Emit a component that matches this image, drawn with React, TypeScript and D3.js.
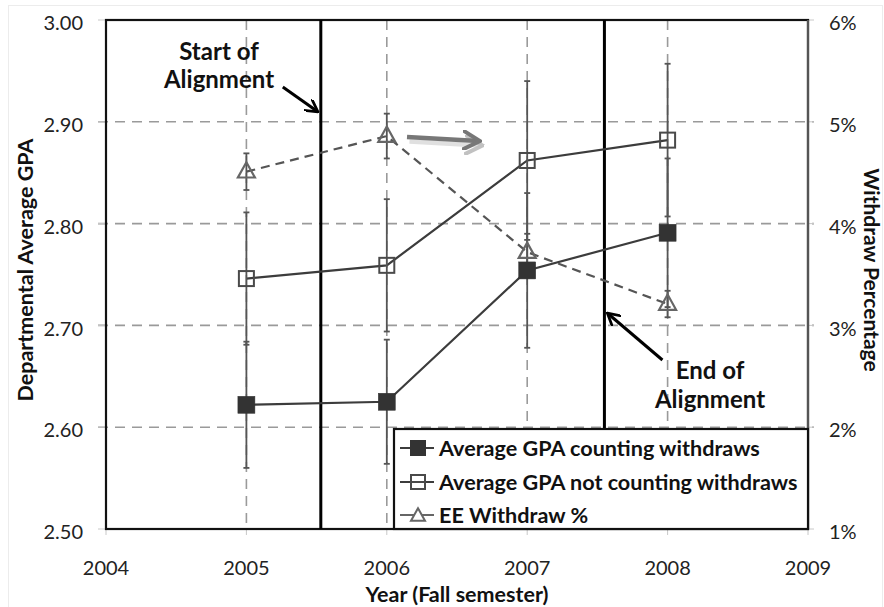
import React, { useEffect, useRef } from "react";
import * as d3 from "d3";

const years = [2005, 2006, 2007, 2008];
const gpaWith = [2.622, 2.625, 2.754, 2.791];
const gpaWithErr = [0.062, 0.061, 0.076, 0.073];
const gpaWithout = [2.746, 2.759, 2.862, 2.882];
const gpaWithoutErr = [0.065, 0.065, 0.078, 0.075];
const withdrawPct = [4.51, 4.86, 3.72, 3.21];
const withdrawErr = [0.18, 0.22, 0.18, 0.13];

const leftTicks = [2.5, 2.6, 2.7, 2.8, 2.9, 3.0];
const rightTicks = [1, 2, 3, 4, 5, 6];
const xTicks = [2004, 2005, 2006, 2007, 2008, 2009];
const alignStart = 2005.53;
const alignEnd = 2007.55;

const legendLabels = [
  "Average GPA counting withdraws",
  "Average GPA not counting withdraws",
  "EE Withdraw %",
];

const W = 884;
const H = 607;
const M = { left: 106, right: 808, top: 20, bottom: 529 };
const FONT = "Lato, 'Open Sans', sans-serif";

export default function App() {
  const ref = useRef<SVGSVGElement>(null);

  useEffect(() => {
    const svg = d3.select(ref.current);
    svg.selectAll("*").remove();

    const x = d3.scaleLinear().domain([2004, 2009]).range([M.left, M.right]);
    const yL = d3.scaleLinear().domain([2.5, 3.0]).range([M.bottom, M.top]);
    const yR = d3.scaleLinear().domain([1, 6]).range([M.bottom, M.top]);

    svg.append("rect").attr("width", W).attr("height", H).attr("fill", "#fff");
    svg
      .append("rect")
      .attr("x", 8.5)
      .attr("y", 5.5)
      .attr("width", W - 10)
      .attr("height", H - 4)
      .attr("fill", "none")
      .attr("stroke", "#ececec");

    const grid = svg.append("g");
    grid
      .selectAll("line.h")
      .data(leftTicks.slice(1, -1))
      .join("line")
      .attr("x1", M.left - 8)
      .attr("x2", M.right + 6)
      .attr("y1", (d) => yL(d))
      .attr("y2", (d) => yL(d))
      .attr("stroke", "#9a9a9a")
      .attr("stroke-width", 1.6)
      .attr("stroke-dasharray", "10,7");
    grid
      .selectAll("line.v")
      .data(years)
      .join("line")
      .attr("x1", (d) => x(d))
      .attr("x2", (d) => x(d))
      .attr("y1", M.top)
      .attr("y2", M.bottom)
      .attr("stroke", "#9a9a9a")
      .attr("stroke-width", 1.6)
      .attr("stroke-dasharray", "10,7");

    const tickG = svg.append("g").attr("stroke", "#c8c8c8").attr("stroke-width", 1);
    leftTicks.forEach((t) => {
      tickG.append("line").attr("x1", M.left - 8).attr("x2", M.left).attr("y1", yL(t)).attr("y2", yL(t));
    });
    rightTicks.forEach((t) => {
      tickG.append("line").attr("x1", M.right).attr("x2", M.right + 6).attr("y1", yR(t)).attr("y2", yR(t));
    });
    xTicks.forEach((t) => {
      tickG.append("line").attr("x1", x(t)).attr("x2", x(t)).attr("y1", M.bottom).attr("y2", M.bottom + 6);
    });

    const lbl = svg.append("g").attr("font-family", FONT).attr("font-size", 20).attr("fill", "#222");
    leftTicks.forEach((t) => {
      lbl
        .append("text")
        .attr("x", 83)
        .attr("y", yL(t))
        .attr("dy", "0.51em")
        .attr("text-anchor", "end")
        .text(d3.format(".2f")(t));
    });
    rightTicks.forEach((t) => {
      lbl
        .append("text")
        .attr("x", 829)
        .attr("y", yR(t))
        .attr("dy", "0.51em")
        .attr("text-anchor", "start")
        .text(`${t}%`);
    });
    xTicks.forEach((t) => {
      lbl
        .append("text")
        .attr("x", x(t))
        .attr("y", 575)
        .attr("text-anchor", "middle")
        .text(String(t));
    });

    const tg = svg.append("g").attr("font-family", FONT).attr("font-size", 21.5).attr("font-weight", "bold").attr("fill", "#111");
    tg.append("text")
      .attr("transform", `translate(33, 270) rotate(-90)`)
      .attr("text-anchor", "middle")
      .text("Departmental Average GPA");
    tg.append("text")
      .attr("transform", `translate(864, 270) rotate(90)`)
      .attr("text-anchor", "middle")
      .attr("font-size", 21)
      .text("Withdraw Percentage");
    tg.append("text")
      .attr("x", (M.left + M.right) / 2)
      .attr("y", 602)
      .attr("text-anchor", "middle")
      .text("Year (Fall semester)");

    svg
      .append("rect")
      .attr("x", M.left)
      .attr("y", M.top)
      .attr("width", M.right - M.left)
      .attr("height", M.bottom - M.top)
      .attr("fill", "none")
      .attr("stroke", "#111")
      .attr("stroke-width", 2.2);
    svg
      .append("line")
      .attr("x1", M.right)
      .attr("x2", M.right)
      .attr("y1", M.top)
      .attr("y2", M.bottom)
      .attr("stroke", "#555")
      .attr("stroke-width", 2.2);

    [alignStart, alignEnd].forEach((v) => {
      svg
        .append("line")
        .attr("x1", x(v))
        .attr("x2", x(v))
        .attr("y1", M.top)
        .attr("y2", M.bottom)
        .attr("stroke", "#000")
        .attr("stroke-width", 3);
    });

    const lineL = d3
      .line<number>()
      .x((_, i) => x(years[i]))
      .y((d) => yL(d));
    const lineR = d3
      .line<number>()
      .x((_, i) => x(years[i]))
      .y((d) => yR(d));

    svg.append("path").attr("d", lineR(withdrawPct)).attr("fill", "none").attr("stroke", "#555").attr("stroke-width", 2.2).attr("stroke-dasharray", "9,6");
    svg.append("path").attr("d", lineL(gpaWithout)).attr("fill", "none").attr("stroke", "#3c3c3c").attr("stroke-width", 2.2);
    svg.append("path").attr("d", lineL(gpaWith)).attr("fill", "none").attr("stroke", "#3c3c3c").attr("stroke-width", 2.2);

    const eb = svg.append("g").attr("stroke", "#555").attr("stroke-width", 1.8);
    const drawErr = (vals: number[], errs: number[], y: d3.ScaleLinear<number, number>) => {
      vals.forEach((v, i) => {
        const cx = x(years[i]);
        const y1 = y(v + errs[i]);
        const y2 = y(v - errs[i]);
        eb.append("line").attr("x1", cx).attr("x2", cx).attr("y1", y1).attr("y2", y2);
        eb.append("line").attr("x1", cx - 3).attr("x2", cx + 3).attr("y1", y1).attr("y2", y1);
        eb.append("line").attr("x1", cx - 3).attr("x2", cx + 3).attr("y1", y2).attr("y2", y2);
      });
    };
    drawErr(gpaWithout, gpaWithoutErr, yL);
    drawErr(gpaWith, gpaWithErr, yL);
    drawErr(withdrawPct, withdrawErr, yR);

    const tri = (cx: number, cy: number, s: number) => {
      const h = s * 0.9;
      return `M${cx},${cy - h * 0.62}L${cx + s / 2},${cy + h * 0.38}L${cx - s / 2},${cy + h * 0.38}Z`;
    };
    withdrawPct.forEach((v, i) => {
      svg
        .append("path")
        .attr("d", tri(x(years[i]), yR(v), 17))
        .attr("fill", "none")
        .attr("stroke", "#666")
        .attr("stroke-width", 2.2);
    });
    gpaWithout.forEach((v, i) => {
      svg
        .append("rect")
        .attr("x", x(years[i]) - 7.5)
        .attr("y", yL(v) - 7.5)
        .attr("width", 15)
        .attr("height", 15)
        .attr("fill", "none")
        .attr("stroke", "#4a4a4a")
        .attr("stroke-width", 2);
    });
    gpaWith.forEach((v, i) => {
      svg
        .append("rect")
        .attr("x", x(years[i]) - 8.5)
        .attr("y", yL(v) - 8.5)
        .attr("width", 17)
        .attr("height", 17)
        .attr("fill", "#333")
        .attr("stroke", "#333")
        .attr("stroke-width", 0.5);
    });

    const defs = svg.append("defs");
    defs
      .append("marker")
      .attr("id", "blackHead")
      .attr("viewBox", "0 0 10 10")
      .attr("refX", 8)
      .attr("refY", 5)
      .attr("markerWidth", 4.6)
      .attr("markerHeight", 4.6)
      .attr("orient", "auto")
      .append("path")
      .attr("d", "M0,0L9,5L0,10")
      .attr("fill", "none")
      .attr("stroke", "#000")
      .attr("stroke-width", 2);
    defs
      .append("marker")
      .attr("id", "grayHead")
      .attr("viewBox", "0 0 10 10")
      .attr("refX", 8)
      .attr("refY", 5)
      .attr("markerWidth", 4.4)
      .attr("markerHeight", 4.4)
      .attr("orient", "auto")
      .append("path")
      .attr("d", "M0,0L9,5L0,10")
      .attr("fill", "none")
      .attr("stroke", "#777")
      .attr("stroke-width", 2);

    const ann = svg.append("g").attr("font-family", FONT).attr("font-size", 24).attr("font-weight", "bold").attr("fill", "#111").attr("text-anchor", "middle");
    ann.append("text").attr("x", 219).attr("y", 60).text("Start of");
    ann.append("text").attr("x", 219).attr("y", 88).text("Alignment");
    ann.append("text").attr("x", 710).attr("y", 379).text("End of");
    ann.append("text").attr("x", 710).attr("y", 408).text("Alignment");

    svg
      .append("line")
      .attr("x1", x(alignStart) - 38)
      .attr("y1", 87)
      .attr("x2", x(alignStart) - 4)
      .attr("y2", 111)
      .attr("stroke", "#000")
      .attr("stroke-width", 3)
      .attr("marker-end", "url(#blackHead)");
    svg
      .append("line")
      .attr("x1", x(alignEnd) + 58)
      .attr("y1", 360)
      .attr("x2", x(alignEnd) + 4)
      .attr("y2", 314)
      .attr("stroke", "#000")
      .attr("stroke-width", 3)
      .attr("marker-end", "url(#blackHead)");

    svg
      .append("line")
      .attr("x1", 408)
      .attr("y1", 139)
      .attr("x2", 479)
      .attr("y2", 143)
      .attr("stroke", "#bbb")
      .attr("stroke-width", 4.5)
      .attr("marker-end", "url(#grayHead)")
      .attr("opacity", 0.45)
      .attr("transform", "translate(1.5,2.5)");
    svg
      .append("line")
      .attr("x1", 407)
      .attr("y1", 137)
      .attr("x2", 478)
      .attr("y2", 141)
      .attr("stroke", "#777")
      .attr("stroke-width", 4.5)
      .attr("marker-end", "url(#grayHead)");

    const lg = svg.append("g");
    const lx = 394;
    const ly = 429;
    lg.append("rect")
      .attr("x", lx)
      .attr("y", ly)
      .attr("width", M.right - lx)
      .attr("height", M.bottom - ly)
      .attr("fill", "#fff")
      .attr("stroke", "#111")
      .attr("stroke-width", 2.2);
    const rows = [448, 482, 515];
    rows.forEach((ry, i) => {
      const g = lg.append("g");
      g.append("line")
        .attr("x1", 400)
        .attr("x2", 434)
        .attr("y1", ry)
        .attr("y2", ry)
        .attr("stroke", i === 2 ? "#666" : "#3c3c3c")
        .attr("stroke-width", 2.2);
      if (i === 0) {
        g.append("rect").attr("x", 418 - 8).attr("y", ry - 8).attr("width", 16).attr("height", 16).attr("fill", "#333");
      } else if (i === 1) {
        g.append("rect")
          .attr("x", 418 - 7)
          .attr("y", ry - 7)
          .attr("width", 14)
          .attr("height", 14)
          .attr("fill", "#fff")
          .attr("stroke", "#4a4a4a")
          .attr("stroke-width", 2);
        g.append("line").attr("x1", 412).attr("x2", 424).attr("y1", ry).attr("y2", ry).attr("stroke", "#4a4a4a").attr("stroke-width", 2);
      } else {
        g.append("path")
          .attr("d", tri(418, ry + 1, 14))
          .attr("fill", "#fff")
          .attr("stroke", "#666")
          .attr("stroke-width", 2);
      }
      g.append("text")
        .attr("x", 439)
        .attr("y", ry)
        .attr("dy", "0.36em")
        .attr("font-family", FONT)
        .attr("font-size", 21.6)
        .attr("font-weight", "bold")
        .attr("fill", "#111")
        .text(legendLabels[i]);
    });
  }, []);

  return (
    <div style={{ position: "absolute", left: 0, top: 0 }}>
      <svg ref={ref} width={W} height={H} style={{ display: "block" }} />
    </div>
  );
}
